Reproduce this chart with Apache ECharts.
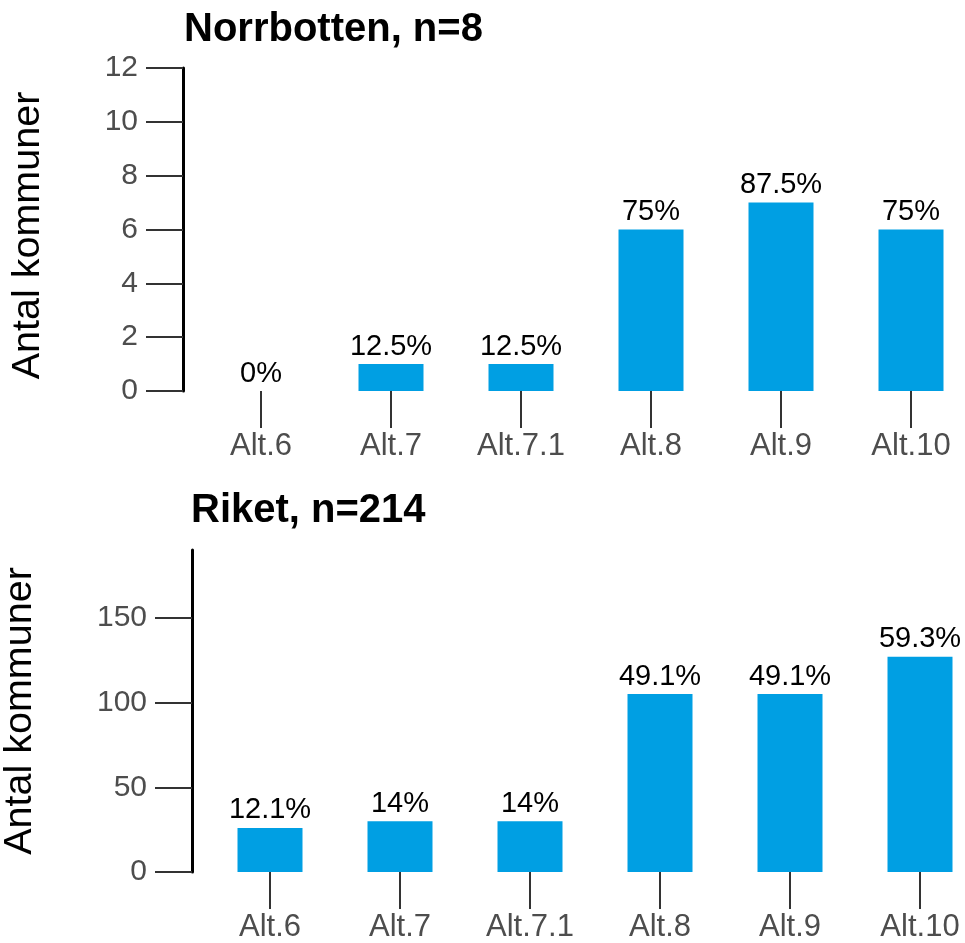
<!DOCTYPE html>
<html>
<head>
<meta charset="utf-8">
<script src="https://cdn.jsdelivr.net/npm/echarts@6/dist/echarts.min.js"></script>
<style>
html,body{margin:0;padding:0;background:#fff;}
#chart{width:965px;height:943px;}
</style>
</head>
<body>
<div id="chart"></div>
<script>
const categories = ['Alt.6', 'Alt.7', 'Alt.7.1', 'Alt.8', 'Alt.9', 'Alt.10'];
const norrbottenValues = [0, 1, 1, 6, 7, 6];
const norrbottenLabels = ['0%', '12.5%', '12.5%', '75%', '87.5%', '75%'];
const riketValues = [26, 30, 30, 105, 105, 127];
const riketLabels = ['12.1%', '14%', '14%', '49.1%', '49.1%', '59.3%'];
const titles = ['Norrbotten, n=8', 'Riket, n=214'];
const yName = 'Antal kommuner';
const topTicks = [0, 2, 4, 6, 8, 10, 12];
const bottomTicks = [0, 50, 100, 150];

const FONT = '"Liberation Sans", Arial, sans-serif';
const BAR = '#009FE3';
const GREY = '#4d4d4d';

function xAxisCfg(gridIndex) {
  return {
    type: 'category', gridIndex: gridIndex, data: categories,
    axisLine: {show: false},
    axisTick: {show: true, alignWithLabel: true, length: 37, lineStyle: {color: '#333', width: 2}},
    axisLabel: {fontSize: 31, color: GREY, fontFamily: FONT, margin: 40, interval: 0},
    splitLine: {show: false}
  };
}
function yAxisCfg(gridIndex, max, interval, ticks, nameGap, namePad) {
  return {
    type: 'value', gridIndex: gridIndex, min: 0, max: max, interval: interval,
    offset: 13,
    name: yName, nameLocation: 'middle', nameGap: nameGap,
    nameTextStyle: {fontSize: 39.5, color: '#000', fontFamily: FONT, padding: namePad},
    axisLine: {show: true, lineStyle: {color: '#000', width: 3}},
    axisTick: {show: true, length: 37, customValues: ticks, lineStyle: {color: '#333', width: 2}},
    axisLabel: {fontSize: 30, color: GREY, fontFamily: FONT, margin: 45, customValues: ticks},
    splitLine: {show: false}
  };
}
function barSeries(idx, values, labels) {
  return {
    type: 'bar', xAxisIndex: idx, yAxisIndex: idx, data: values, barWidth: '50%',
    itemStyle: {color: BAR},
    label: {show: true, position: 'top', distance: 3, fontSize: 29, color: '#000', fontFamily: FONT,
      formatter: p => labels[p.dataIndex]}
  };
}

const chart = echarts.init(document.getElementById('chart'), null, {renderer: 'canvas'});
chart.setOption({
  animation: false,
  backgroundColor: '#fff',
  title: [
    {text: titles[0], left: 184, top: 10, padding: 0, textStyle: {fontSize: 40, fontWeight: 'bold', color: '#000', fontFamily: FONT}},
    {text: titles[1], left: 191, top: 491, padding: 0, textStyle: {fontSize: 40, fontWeight: 'bold', color: '#000', fontFamily: FONT}}
  ],
  grid: [
    {left: 196, width: 780, top: 68, height: 323, outerBoundsMode: 'none', containLabel: false},
    {left: 205, width: 780, top: 550, height: 322, outerBoundsMode: 'none', containLabel: false}
  ],
  xAxis: [xAxisCfg(0), xAxisCfg(1)],
  yAxis: [yAxisCfg(0, 12, 2, topTicks, 135, [0, 12, 0, 0]), yAxisCfg(1, 190, 50, bottomTicks, 152, 0)],
  series: [barSeries(0, norrbottenValues, norrbottenLabels), barSeries(1, riketValues, riketLabels)]
});
</script>
</body>
</html>
